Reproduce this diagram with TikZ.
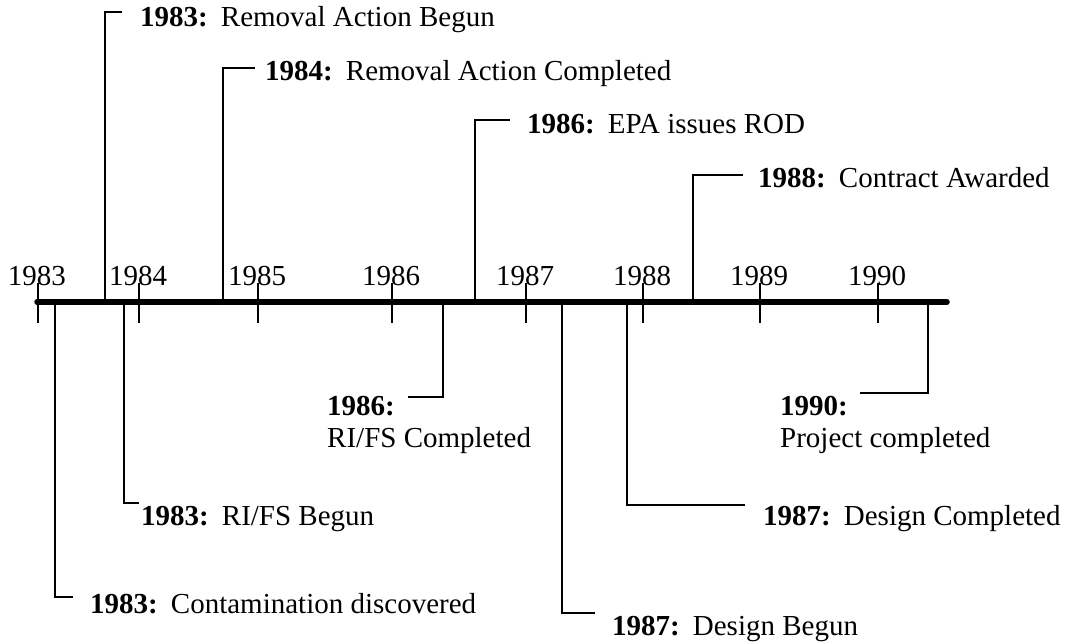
\documentclass[tikz,border=0pt]{standalone}
\usepackage{fontspec}
\setmainfont{Liberation Serif}
\begin{document}
\begin{tikzpicture}[x=1pt,y=-1pt,
  axisline/.style={line width=5.5pt, line cap=round},
  tickmark/.style={line width=2.6pt},
  leader/.style={line width=2.6pt},
  yearlbl/.style={anchor=base, inner sep=0pt, font=\fontsize{29}{32}\selectfont},
  evlbl/.style={anchor=base west, inner sep=0pt, align=left, font=\fontsize{29}{32}\selectfont}]
\useasboundingbox (0,0) rectangle (1074,643);

% time axis
\coordinate (axL) at (37,302);
\coordinate (axR) at (947,302);
\draw[axisline] (axL) -- (axR);

% year ticks and labels
\foreach \x/\yr in {38/1983,139/1984,258/1985,392/1986,526/1987,643/1988,760/1989,878/1990}{
  \draw[tickmark] (\x,283) -- (\x,323);
  \node[yearlbl] (yr\yr) at (\x-1,285) {\yr};
}

% events above the axis
\coordinate (fA) at (105,302); \coordinate (cA) at (122,12);
\draw[leader] (fA) |- (cA);
\node[evlbl] (eA) at (140,26) {\textbf{1983:}\hspace{0.45em}Removal Action Begun};

\coordinate (fB) at (223,302); \coordinate (cB) at (255,68);
\draw[leader] (fB) |- (cB);
\node[evlbl] (eB) at (265,80) {\textbf{1984:}\hspace{0.45em}Removal Action Completed};

\coordinate (fC) at (475,302); \coordinate (cC) at (510,120);
\draw[leader] (fC) |- (cC);
\node[evlbl] (eC) at (527,133) {\textbf{1986:}\hspace{0.45em}EPA issues ROD};

\coordinate (fD) at (693,302); \coordinate (cD) at (743,175);
\draw[leader] (fD) |- (cD);
\node[evlbl] (eD) at (758,187) {\textbf{1988:}\hspace{0.45em}Contract Awarded};

% events below the axis
\coordinate (fE) at (55,302); \coordinate (cE) at (73,597);
\draw[leader] (fE) |- (cE);
\node[evlbl] (eE) at (90,613) {\textbf{1983:}\hspace{0.45em}Contamination discovered};

\coordinate (fF) at (124,302); \coordinate (cF) at (139,503);
\draw[leader] (fF) |- (cF);
\node[evlbl] (eF) at (141,525) {\textbf{1983:}\hspace{0.45em}RI/FS Begun};

\coordinate (fG) at (562,302); \coordinate (cG) at (595,613);
\draw[leader] (fG) |- (cG);
\node[evlbl] (eG) at (612,635) {\textbf{1987:}\hspace{0.45em}Design Begun};

\coordinate (fH) at (627,302); \coordinate (cH) at (745,505);
\draw[leader] (fH) |- (cH);
\node[evlbl] (eH) at (763,525) {\textbf{1987:}\hspace{0.45em}Design Completed};

% two-line labels: the node's base is the baseline of the second line
\coordinate (fI) at (443,302); \coordinate (cI) at (408,397);
\draw[leader] (fI) |- (cI);
\node[evlbl] (eI) at (327,447) {\textbf{1986:}\\RI/FS Completed};

\coordinate (fJ) at (928,302); \coordinate (cJ) at (860,393);
\draw[leader] (fJ) |- (cJ);
\node[evlbl] (eJ) at (780,447) {\textbf{1990:}\\Project completed};
\end{tikzpicture}
\end{document}
